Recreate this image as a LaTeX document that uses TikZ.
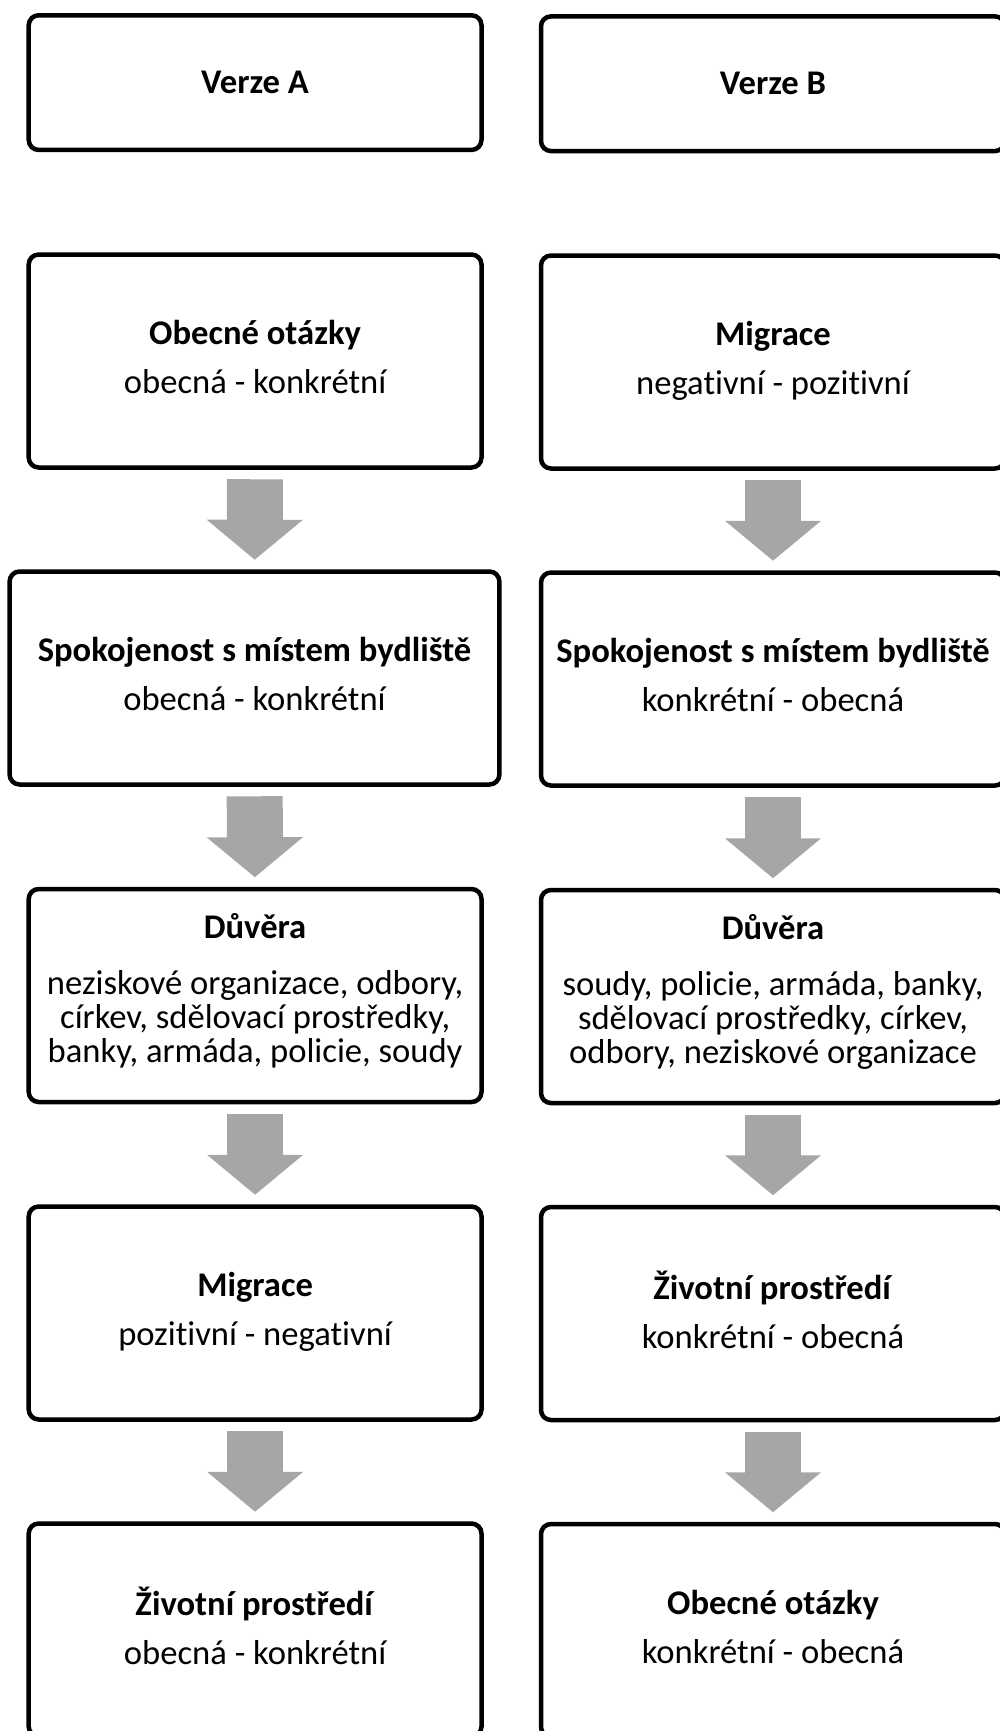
\documentclass[tikz,border=0pt]{standalone}
\usepackage{fontspec}
\setmainfont{Carlito}[Ligatures=NoCommon]
\usetikzlibrary{arrows.meta}
\definecolor{arrowgray}{HTML}{A6A6A6}
\newcommand\boxfont{\fontsize{17.3}{17.2}\selectfont\setlength{\lineskiplimit}{-20pt}}

\begin{document}
\begin{tikzpicture}[x=0.5pt,y=-0.5pt,
  box/.style={draw,line width=2.25pt,rounded corners=5pt,align=center,inner sep=0pt,text depth=4pt,
    minimum width=226.4pt,minimum height=106.5pt,font=\boxfont},
  rbox/.style={box,minimum width=232pt},
  flow/.style={draw=arrowgray,line width=28pt,-{Triangle[length=20pt,width=47pt]},
    shorten <=4.75pt,shorten >=4.75pt}]
\useasboundingbox (0,0) rectangle (1000,1731);
\node[box,minimum height=67.35pt,text depth=0pt] (va) at (255.1,82.6) {\textbf{Verze A}};
\node[rbox,minimum height=67.35pt,text depth=0pt] (vb) at (773,83.7) {\textbf{Verze B}};

\node[box] (a1) at (255.1,361) {\textbf{Obecné otázky}\\[7.45pt]obecná - konkrétní};
\node[box,minimum width=244.9pt] (a2) at (254.5,678) {\textbf{Spokojenost s místem bydliště}\\[7.45pt]obecná - konkrétní};
\node[box,text depth=7.5pt] (a3) at (255.1,995.5) {\textbf{Důvěra}\\[10.65pt]neziskové organizace, odbory,\\církev, sdělovací prostředky,\\banky, armáda, policie, soudy};
\node[box] (a4) at (255.1,1313) {\textbf{Migrace}\\[7.45pt]pozitivní - negativní};
\node[box] (a5) at (255.1,1630) {\textbf{Životní prostředí}\\[7.45pt]obecná - konkrétní};

\node[rbox] (b1) at (773,362) {\textbf{Migrace}\\[7.45pt]negativní - pozitivní};
\node[rbox] (b2) at (773,679) {\textbf{Spokojenost s místem bydliště}\\[7.45pt]konkrétní - obecná};
\node[rbox,text depth=7.5pt] (b3) at (773,996.5) {\textbf{Důvěra}\\[10.65pt]soudy, policie, armáda, banky,\\sdělovací prostředky, církev,\\odbory, neziskové organizace};
\node[rbox] (b4) at (773,1313.5) {\textbf{Životní prostředí}\\[7.45pt]konkrétní - obecná};
\node[rbox] (b5) at (773,1630.5) {\textbf{Obecné otázky}\\[7.45pt]konkrétní - obecná};

\foreach \i/\j in {1/2,2/3,3/4,4/5}{
  \draw[flow] (a\i) -- (a\j);
  \draw[flow] (b\i) -- (b\j);
}
\end{tikzpicture}
\end{document}
